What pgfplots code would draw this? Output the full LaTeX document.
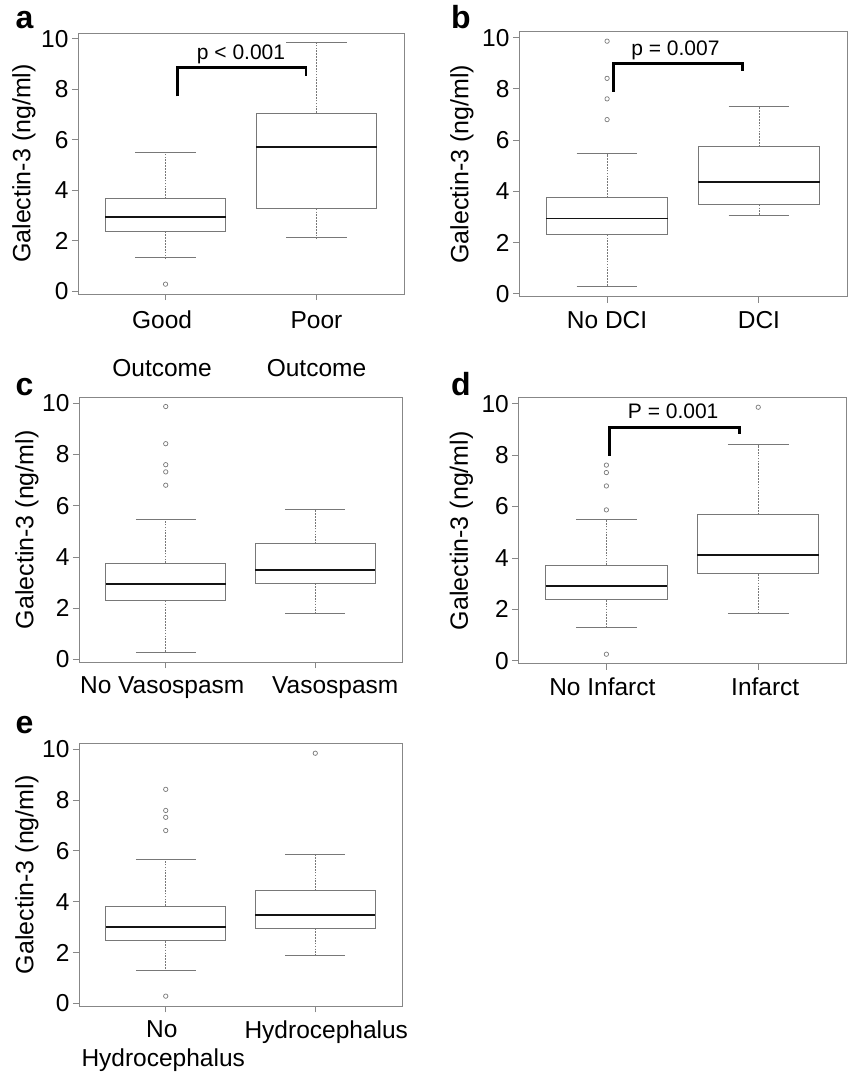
\documentclass[border=0pt]{standalone}
\usepackage{fontspec}
\setmainfont{Liberation Sans}
\usepackage{pgfplots}
\pgfplotsset{compat=1.18}
\usepgfplotslibrary{statistics}
\definecolor{framegray}{HTML}{878787}
\definecolor{boxgray}{HTML}{787878}

\pgfplotsset{
  boxplot/draw/lower whisker/.code={%
    \draw[/pgfplots/boxplot/every whisker/.try, dash pattern=on 1.7pt off 1.2pt, line width=0.8pt]
      (boxplot box cs:\pgfplotsboxplotvalue{lower quartile},0.5) --
      (boxplot box cs:\pgfplotsboxplotvalue{lower whisker},0.5);
    \draw[/pgfplots/boxplot/every whisker/.try]
      (boxplot whisker cs:\pgfplotsboxplotvalue{lower whisker},0) --
      (boxplot whisker cs:\pgfplotsboxplotvalue{lower whisker},1);
  },
  boxplot/draw/upper whisker/.code={%
    \draw[/pgfplots/boxplot/every whisker/.try, dash pattern=on 1.7pt off 1.2pt, line width=0.8pt]
      (boxplot box cs:\pgfplotsboxplotvalue{upper quartile},0.5) --
      (boxplot box cs:\pgfplotsboxplotvalue{upper whisker},0.5);
    \draw[/pgfplots/boxplot/every whisker/.try]
      (boxplot whisker cs:\pgfplotsboxplotvalue{upper whisker},0) --
      (boxplot whisker cs:\pgfplotsboxplotvalue{upper whisker},1);
  },
  rpanel/.style={
    scale only axis,
    xmin=0.42, xmax=2.58, ymin=-0.11, ymax=10.23,
    xtick={1,2}, ytick={0,2,4,6,8,10},
    tick pos=left, tick align=outside,
    major tick length=6pt,
    axis line style={draw=framegray, line width=0.9pt},
    tick style={draw=framegray, line width=0.9pt},
    /pgf/number format/assume math mode=true,
    tick label style={font=\fontsize{24.5}{29}\selectfont, text=black},
    xticklabel style={align=center, yshift=-5pt},
    ylabel={Galectin-3 (ng/ml)},
    every axis y label/.style={at={(axis description cs:0,0.5)}, rotate=90,
      anchor=center, font=\fontsize{25}{29}\selectfont},
    clip=false,
    boxplot/draw direction=y,
    boxplot/box extend=0.8,
    boxplot/whisker extend=0.4,
    boxplot/every box/.style={draw=boxgray, line width=1pt},
    boxplot/every median/.style={draw=black!92, line width=1.9pt},
    boxplot/every whisker/.style={draw=boxgray, line width=1pt},
  },
  rbox/.style={draw=boxgray, mark=o, mark size=2.2pt,
    mark options={draw=boxgray, line width=0.7pt, solid}},
  bracket/.style={black, line width=2.7pt, line join=miter, line cap=butt},
}
\tikzset{
  ptext/.style={font=\fontsize{21}{24}\selectfont, anchor=base},
  letter/.style={anchor=base west, inner sep=0pt, font=\bfseries\fontsize{32}{36}\selectfont},
}

\begin{document}
\begin{tikzpicture}
\useasboundingbox (0pt,-1073pt) rectangle (848pt,0pt);

% ---------------- panel a
\begin{axis}[rpanel, width=326pt, height=261pt, at={(78pt,-33pt)}, anchor=north west,
  xticklabels={{\strut Good\hspace*{7pt}\\[19pt]\strut Outcome\hspace*{7pt}},{\strut Poor\\[19pt]\strut Outcome}},
  every axis y label/.append style={yshift=54pt}]
\addplot[rbox, boxplot prepared={draw position=1, lower whisker=1.33, lower quartile=2.37,
  median=2.95, upper quartile=3.66, upper whisker=5.48}]
  table[row sep=\\, y index=0] {data\\ 0.28\\};
\addplot[rbox, boxplot prepared={draw position=2, lower whisker=2.11, lower quartile=3.27,
  median=5.72, upper quartile=7.06, upper whisker=9.85}] coordinates {};
\addplot[bracket] coordinates {(1.08,7.72) (1.08,8.87) (1.93,8.87) (1.93,8.54)};
\node[ptext] at (axis cs:1.50,9.2) {p < 0.001};
\end{axis}

% ---------------- panel b
\begin{axis}[rpanel, width=328pt, height=265pt, at={(519pt,-31.7pt)}, anchor=north west,
  xticklabels={No DCI, DCI},
  every axis y label/.append style={yshift=57pt}]
\addplot[rbox, boxplot prepared={draw position=1, lower whisker=0.28, lower quartile=2.31,
  median=2.94, upper quartile=3.76, upper whisker=5.47}]
  table[row sep=\\, y index=0] {data\\ 9.86\\ 8.41\\ 7.61\\ 6.80\\};
\addplot[rbox, boxplot prepared={draw position=2, lower whisker=3.04, lower quartile=3.48,
  median=4.36, upper quartile=5.74, upper whisker=7.32}] coordinates {};
\addplot[bracket] coordinates {(1.04,7.89) (1.04,9.0) (1.89,9.0) (1.89,8.70)};
\node[ptext] at (axis cs:1.45,9.29) {p = 0.007};
\end{axis}

% ---------------- panel c
\begin{axis}[rpanel, width=323pt, height=265pt, at={(79pt,-397.3pt)}, anchor=north west,
  xticklabels={No Vasospasm\hspace*{7pt}, \hspace*{40pt}Vasospasm},
  every axis y label/.append style={yshift=52pt}]
\addplot[rbox, boxplot prepared={draw position=1, lower whisker=0.27, lower quartile=2.29,
  median=2.94, upper quartile=3.76, upper whisker=5.48}]
  table[row sep=\\, y index=0] {data\\ 9.87\\ 8.42\\ 7.60\\ 7.32\\ 6.80\\};
\addplot[rbox, boxplot prepared={draw position=2, lower whisker=1.80, lower quartile=2.97,
  median=3.48, upper quartile=4.51, upper whisker=5.86}] coordinates {};
\end{axis}

% ---------------- panel d
\begin{axis}[rpanel, width=328pt, height=266pt, at={(518.3pt,-397.7pt)}, anchor=north west,
  xticklabels={No Infarct\hspace*{8pt}, \hspace*{14pt}Infarct},
  every axis y label/.append style={yshift=57pt}]
\addplot[rbox, boxplot prepared={draw position=1, lower whisker=1.31, lower quartile=2.37,
  median=2.91, upper quartile=3.72, upper whisker=5.48}]
  table[row sep=\\, y index=0] {data\\ 0.26\\ 5.87\\ 6.80\\ 7.32\\ 7.61\\};
\addplot[rbox, boxplot prepared={draw position=2, lower whisker=1.83, lower quartile=3.38,
  median=4.13, upper quartile=5.69, upper whisker=8.41}]
  table[row sep=\\, y index=0] {data\\ 9.86\\};
\addplot[bracket] coordinates {(1.02,7.98) (1.02,9.06) (1.876,9.06) (1.876,8.80)};
\node[ptext] at (axis cs:1.44,9.41) {P = 0.001};
\end{axis}

% ---------------- panel e
\begin{axis}[rpanel, width=323pt, height=263pt, at={(79pt,-743.3pt)}, anchor=north west,
  xticklabels={{No\hspace*{8pt}\\Hydrocephalus\hspace*{5pt}}, \hspace*{22pt}Hydrocephalus},
  every axis y label/.append style={yshift=52pt}]
\addplot[rbox, boxplot prepared={draw position=1, lower whisker=1.31, lower quartile=2.46,
  median=3.00, upper quartile=3.83, upper whisker=5.68}]
  table[row sep=\\, y index=0] {data\\ 0.29\\ 6.80\\ 7.32\\ 7.59\\ 8.42\\};
\addplot[rbox, boxplot prepared={draw position=2, lower whisker=1.87, lower quartile=2.96,
  median=3.49, upper quartile=4.43, upper whisker=5.85}]
  table[row sep=\\, y index=0] {data\\ 9.84\\};
\end{axis}

% panel letters
\node[letter] at (15.5pt,-29pt) {a};
\node[letter] at (451pt,-29pt) {b};
\node[letter] at (15.5pt,-395pt) {c};
\node[letter] at (451pt,-395pt) {d};
\node[letter] at (15.5pt,-733pt) {e};
\end{tikzpicture}
\end{document}
